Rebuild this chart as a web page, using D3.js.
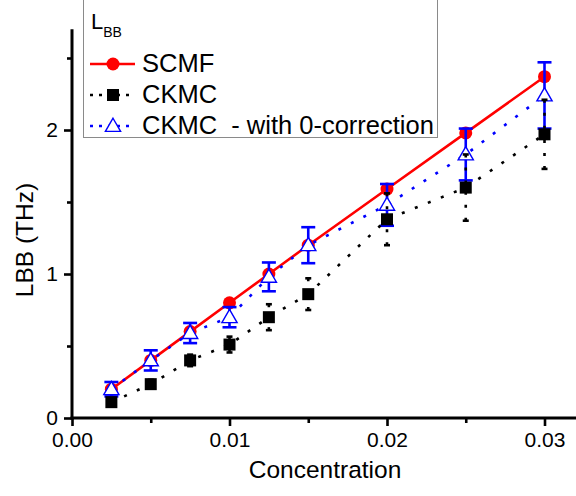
<!DOCTYPE html>
<html>
<head>
<meta charset="utf-8">
<script src="https://cdn.jsdelivr.net/npm/d3@7"></script>
<style>
  html, body { margin: 0; padding: 0; background: #fff; }
  svg { display: block; }
  text { font-family: "Liberation Sans", Arial, sans-serif; fill: #000; }
</style>
</head>
<body>
<svg id="chart" width="576" height="496"></svg>
<script>
// Bandwidth LBB versus concentration for three methods
const concentration = [0.0025, 0.005, 0.0075, 0.01, 0.0125, 0.015, 0.02, 0.025, 0.03];
const scmf      = [0.20, 0.40, 0.60, 0.80, 1.00, 1.20, 1.59, 1.98, 2.37];
const ckmc      = [0.11, 0.235, 0.40, 0.51, 0.70, 0.86, 1.38, 1.60, 1.97];
const ckmcErr   = [0.02, 0.03, 0.04, 0.055, 0.09, 0.11, 0.18, 0.23, 0.24];
const ckmc0     = [0.20, 0.40, 0.59, 0.70, 0.98, 1.20, 1.48, 1.83, 2.24];
const ckmc0Err  = [0.05, 0.07, 0.07, 0.07, 0.10, 0.125, 0.145, 0.18, 0.23];

const xMajorTicks = [0, 0.01, 0.02, 0.03];
const xMinorTicks = [0.005, 0.015, 0.025];
const yMajorTicks = [0, 1, 2];
const yMinorTicks = [0.5, 1.5, 2.5];

const legendLabels = ["SCMF", "CKMC", "CKMC  - with 0-correction"];

const svg = d3.select("#chart");

const x = d3.scaleLinear().domain([0, 0.032]).range([72, 576]);
const y = d3.scaleLinear().domain([0, 2.7]).range([418, 29.2]);

const RED = "#ff0000", BLUE = "#0000ff", BLACK = "#000000";
const FONT = '"Liberation Sans", Arial, sans-serif';

// ---- axes ----
const axisW = 3;
const xAxis = d3.axisBottom(x).tickValues(xMajorTicks).tickSize(8).tickPadding(6)
  .tickFormat(d3.format(".2f"));
const xAxisMinor = d3.axisBottom(x).tickValues(xMinorTicks).tickSize(5).tickFormat("");
const yAxis = d3.axisLeft(y).tickValues(yMajorTicks).tickSize(8).tickPadding(6)
  .tickFormat(d3.format("d"));
const yAxisMinor = d3.axisLeft(y).tickValues(yMinorTicks).tickSize(5).tickFormat("");

function styleAxis(g) {
  g.select(".domain").remove();
  g.selectAll(".tick line").attr("stroke", BLACK).attr("stroke-width", 2.6);
  g.selectAll(".tick text").style("font-size", "21px").style("font-family", FONT);
}

svg.append("g").attr("transform", `translate(0,${y(0)})`).call(xAxis).call(styleAxis);
svg.append("g").attr("transform", `translate(0,${y(0)})`).call(xAxisMinor).call(styleAxis);
svg.append("g").attr("transform", `translate(${x(0)},0)`).call(yAxis).call(styleAxis);
svg.append("g").attr("transform", `translate(${x(0)},0)`).call(yAxisMinor).call(styleAxis);

// axis lines
svg.append("line").attr("x1", x(0) - axisW / 2).attr("x2", x.range()[1])
  .attr("y1", y(0)).attr("y2", y(0)).attr("stroke", BLACK).attr("stroke-width", axisW);
svg.append("line").attr("x1", x(0)).attr("x2", x(0))
  .attr("y1", y.range()[1]).attr("y2", y(0) + axisW / 2).attr("stroke", BLACK).attr("stroke-width", axisW);

// axis titles
svg.append("text").attr("x", 325).attr("y", 478).attr("text-anchor", "middle")
  .style("font-size", "24.5px").text("Concentration");
svg.append("text").attr("transform", "translate(33,240) rotate(-90)").attr("text-anchor", "middle")
  .style("font-size", "24.5px").text("LBB (THz)");

const pts = (vals) => concentration.map((c, i) => [c, vals[i]]);
const line = d3.line().x(d => x(d[0])).y(d => y(d[1]));

// ---- SCMF ----
svg.append("path").attr("d", line(pts(scmf))).attr("fill", "none")
  .attr("stroke", RED).attr("stroke-width", 2.6);
svg.append("g").selectAll("circle").data(pts(scmf)).join("circle")
  .attr("cx", d => x(d[0])).attr("cy", d => y(d[1])).attr("r", 6.5).attr("fill", RED);

// ---- CKMC with 0-correction ----
svg.append("path").attr("d", line(pts(ckmc0))).attr("fill", "none")
  .attr("stroke", BLUE).attr("stroke-width", 2.6).attr("stroke-dasharray", "3,11");
const blueErr = svg.append("g").attr("stroke", BLUE).attr("stroke-width", 2.6);
concentration.forEach((c, i) => {
  const cx = x(c), top = y(ckmc0[i] + ckmc0Err[i]), bot = y(ckmc0[i] - ckmc0Err[i]);
  blueErr.append("line").attr("x1", cx).attr("x2", cx).attr("y1", top).attr("y2", bot);
  blueErr.append("line").attr("x1", cx - 7).attr("x2", cx + 7).attr("y1", top).attr("y2", top);
  blueErr.append("line").attr("x1", cx - 7).attr("x2", cx + 7).attr("y1", bot).attr("y2", bot);
});
const tri = d3.symbol().type(d3.symbolTriangle).size(100);
svg.append("g").selectAll("path").data(pts(ckmc0)).join("path")
  .attr("d", tri).attr("transform", d => `translate(${x(d[0])},${y(d[1]) + 1})`)
  .attr("fill", "#fff").attr("stroke", BLUE).attr("stroke-width", 1.4);

// ---- CKMC ----
svg.append("path").attr("d", line(pts(ckmc))).attr("fill", "none")
  .attr("stroke", BLACK).attr("stroke-width", 2.6).attr("stroke-dasharray", "3,11");
const blackErr = svg.append("g").attr("stroke", BLACK).attr("stroke-width", 2.6);
concentration.forEach((c, i) => {
  const cx = x(c), mid = y(ckmc[i]);
  const top = y(ckmc[i] + ckmcErr[i]), bot = y(ckmc[i] - ckmcErr[i]);
  // dotted whiskers drawn from the cap toward the centre
  blackErr.append("line").attr("x1", cx).attr("x2", cx).attr("y1", top).attr("y2", mid)
    .attr("stroke-dasharray", "3,10");
  blackErr.append("line").attr("x1", cx).attr("x2", cx).attr("y1", bot).attr("y2", mid)
    .attr("stroke-dasharray", "3,10");
  blackErr.append("line").attr("x1", cx - 3).attr("x2", cx + 3).attr("y1", top).attr("y2", top);
  blackErr.append("line").attr("x1", cx - 3).attr("x2", cx + 3).attr("y1", bot).attr("y2", bot);
});
svg.append("g").selectAll("rect").data(pts(ckmc)).join("rect")
  .attr("x", d => x(d[0]) - 6).attr("y", d => y(d[1]) - 6)
  .attr("width", 12).attr("height", 12).attr("fill", BLACK);

// ---- legend ----
const lg = svg.append("g");
lg.append("rect").attr("x", 83.5).attr("y", -5).attr("width", 354).attr("height", 142.5)
  .attr("fill", "#fff").attr("stroke", "#8a8a8a").attr("stroke-width", 1);
const title = lg.append("text").attr("x", 91).attr("y", 29).style("font-size", "22px");
title.append("tspan").text("L");
title.append("tspan").attr("dy", 8).style("font-size", "14px").text("BB");

const rowsY = [64, 95, 126];
const styles = [
  { color: RED, dash: null },
  { color: BLACK, dash: "3,6" },
  { color: BLUE, dash: "3,6" }
];
rowsY.forEach((ry, i) => {
  const s = styles[i];
  const ln = lg.append("line").attr("x1", 90).attr("x2", 135).attr("y1", ry).attr("y2", ry)
    .attr("stroke", s.color).attr("stroke-width", 2.6);
  if (s.dash) ln.attr("stroke-dasharray", s.dash);
  if (i === 0) {
    lg.append("circle").attr("cx", 113).attr("cy", ry).attr("r", 6.5).attr("fill", RED);
  } else if (i === 1) {
    lg.append("rect").attr("x", 107).attr("y", ry - 6).attr("width", 12).attr("height", 12).attr("fill", BLACK);
  } else {
    lg.append("path").attr("d", tri).attr("transform", `translate(113,${ry + 1})`)
      .attr("fill", "#fff").attr("stroke", BLUE).attr("stroke-width", 1.4);
  }
  lg.append("text").attr("x", 142).attr("y", ry + 8).style("font-size", "25.5px")
    .style("white-space", "pre").text(legendLabels[i]);
});
</script>
</body>
</html>
